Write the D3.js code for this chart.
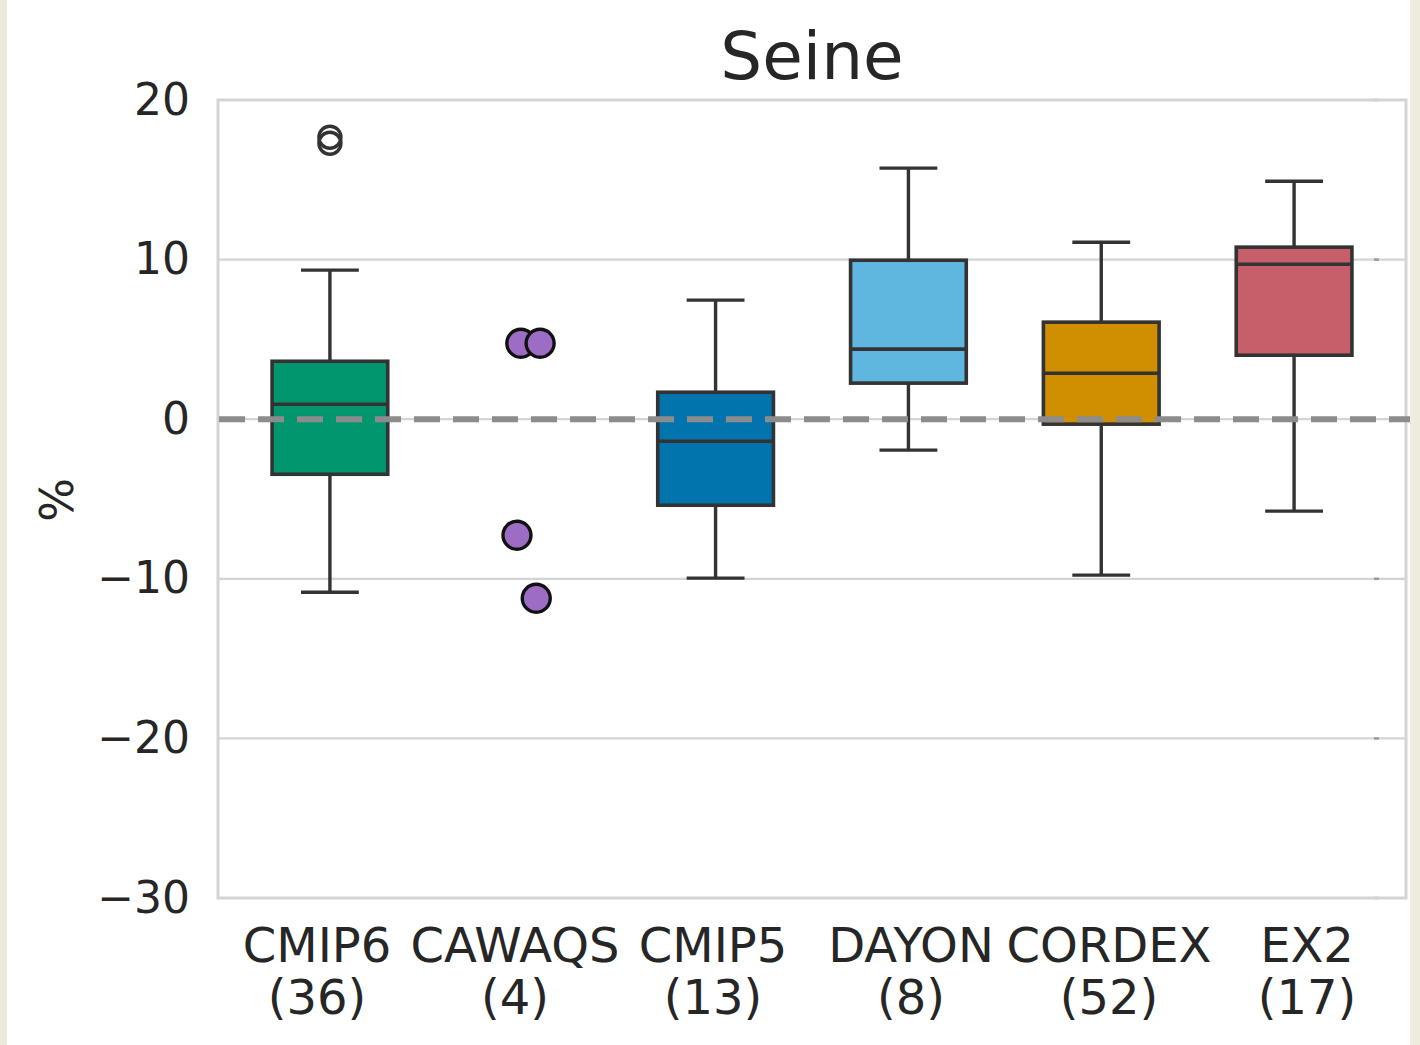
<!DOCTYPE html>
<html>
<head>
<meta charset="utf-8">
<script src="https://d3js.org/d3.v7.min.js"></script>
<style>
  body { margin: 0; background: #fff; }
  text { font-family: "DejaVu Sans", sans-serif; fill: #262626; }
</style>
</head>
<body>
<svg width="1420" height="1045"></svg>
<script>
var groups = ['CMIP6', 'CAWAQS', 'CMIP5', 'DAYON', 'CORDEX', 'EX2'];
var counts = [36, 4, 13, 8, 52, 17];
var colors = ['#02966f', '#9d6dc6', '#0174ae', '#5fb7df', '#cf8f00', '#c65f6a'];
// box stats: [low whisker, q1, median, q3, high whisker]; CAWAQS has only points
var stats = [
    [-10.84, -3.45, 0.94, 3.63, 9.34],
    null,
    [-9.96, -5.39, -1.38, 1.69, 7.46],
    [-1.94, 2.26, 4.39, 9.96, 15.73],
    [-9.77, -0.31, 2.88, 6.08, 11.09],
    [-5.76, 4.01, 9.71, 10.78, 14.91]
];
var outliers = [[17.67, 17.29], [], [], [], [], []];
var cawaqsValues = [4.76, 4.76, -7.27, -11.22];
var cawaqsJitter = [-0.01, 0.09, -0.03, 0.07]; // strip jitter, fraction of band
var yTicks = [20, 10, 0, -10, -20, -30];

var svg = d3.select('svg');
var width = +svg.attr('width'),
    height = +svg.attr('height');
var frame = {left: 218, right: 1406, top: 100, bottom: 898};

// screenshot edge strips
svg.append('rect').attr('x', 0).attr('y', 0).attr('width', 7).attr('height', height).attr('fill', '#ece9dd');
svg.append('rect').attr('x', 1410).attr('y', 0).attr('width', 10).attr('height', height).attr('fill', '#eeebe0');

var y = d3.scaleLinear()
    .domain([-30, 20])
    .range([frame.bottom, frame.top]);
// tick labels sit on the frame axis, boxes on a slightly narrower one
var xLabel = d3.scaleBand()
    .domain(groups)
    .range([frame.left, frame.right]);
var x = d3.scaleBand()
    .domain(groups)
    .range([233.5, 1390.5]);
var boxW = x.bandwidth() * 0.6;

// grid
svg.selectAll('.grid')
    .data(yTicks).enter().append('line')
    .attr('x1', frame.left).attr('x2', frame.right)
    .attr('y1', function(d) { return y(d); })
    .attr('y2', function(d) { return y(d); })
    .attr('stroke', '#d4d4d4')
    .attr('stroke-width', 2.2);

// little twin-axis ticks near the right edge
svg.selectAll('.rtick')
    .data(yTicks.filter(function(d) { return d != 0; })).enter().append('line')
    .attr('x1', 1374).attr('x2', 1379)
    .attr('y1', function(d) { return y(d); })
    .attr('y2', function(d) { return y(d); })
    .attr('stroke', '#9a9a9a')
    .attr('stroke-width', 2.5);

// frame
svg.append('rect')
    .attr('x', frame.left).attr('y', frame.top)
    .attr('width', frame.right - frame.left)
    .attr('height', frame.bottom - frame.top)
    .attr('fill', 'none')
    .attr('stroke', '#d4d4d4')
    .attr('stroke-width', 3);

var yAxis = d3.axisLeft(y)
    .tickValues(yTicks)
    .tickSize(0)
    .tickPadding(28)
    .tickFormat(function(d) { return d < 0 ? '\u2212' + Math.abs(d) : d; });
svg.append('g')
    .attr('transform', 'translate(' + frame.left + ',0)')
    .call(yAxis)
    .call(function(g) { g.select('.domain').remove(); })
    .selectAll('text')
    .attr('font-size', 44)
    .attr('font-family', 'DejaVu Sans')
    .attr('fill', '#262626');

var dark = '#333333';
var boxes = svg.append('g');
stats.forEach(function(s, i) {
    if (!s) return;
    var cx = x(groups[i]) + x.bandwidth() / 2;
    var g = boxes.append('g');
    g.append('line')
        .attr('x1', cx).attr('x2', cx)
        .attr('y1', y(s[0])).attr('y2', y(s[1]))
        .attr('stroke', dark).attr('stroke-width', 3.4);
    g.append('line')
        .attr('x1', cx).attr('x2', cx)
        .attr('y1', y(s[3])).attr('y2', y(s[4]))
        .attr('stroke', dark).attr('stroke-width', 3.4);
    [s[0], s[4]].forEach(function(v) {
        g.append('line')
            .attr('x1', cx - boxW / 4).attr('x2', cx + boxW / 4)
            .attr('y1', y(v)).attr('y2', y(v))
            .attr('stroke', dark).attr('stroke-width', 3.4);
    });
    g.append('rect')
        .attr('x', cx - boxW / 2).attr('width', boxW)
        .attr('y', y(s[3])).attr('height', y(s[1]) - y(s[3]))
        .attr('fill', colors[i])
        .attr('stroke', dark).attr('stroke-width', 3.6);
    g.append('line')
        .attr('x1', cx - boxW / 2).attr('x2', cx + boxW / 2)
        .attr('y1', y(s[2])).attr('y2', y(s[2]))
        .attr('stroke', dark).attr('stroke-width', 3.6);
    g.selectAll('circle')
        .data(outliers[i]).enter().append('circle')
        .attr('cx', cx)
        .attr('cy', function(d) { return y(d); })
        .attr('r', 11)
        .attr('fill', 'none')
        .attr('stroke', dark)
        .attr('stroke-width', 3.4);
});

// zero reference line
svg.append('line')
    .attr('x1', frame.left + 1).attr('x2', frame.right + 4)
    .attr('y1', y(0)).attr('y2', y(0))
    .attr('stroke', '#8c8c8c')
    .attr('stroke-width', 6)
    .attr('stroke-dasharray', '26,13');

// CAWAQS strip points
var ci = groups.indexOf('CAWAQS');
svg.append('g').selectAll('circle')
    .data(cawaqsValues).enter().append('circle')
    .attr('cx', function(d, i) { return x('CAWAQS') + x.bandwidth() * (0.5 + cawaqsJitter[i]); })
    .attr('cy', function(d) { return y(d); })
    .attr('r', 14)
    .attr('fill', colors[ci])
    .attr('stroke', '#111')
    .attr('stroke-width', 3.4);

// x labels
var labels = svg.append('g').selectAll('text')
    .data(groups).enter().append('text')
    .attr('text-anchor', 'middle')
    .attr('font-size', 48)
    .attr('x', function(d) { return xLabel(d) + xLabel.bandwidth() / 2; })
    .attr('y', 962);
labels.append('tspan').text(function(d) { return d; });
labels.append('tspan')
    .attr('x', function(d) { return xLabel(d) + xLabel.bandwidth() / 2; })
    .attr('y', 1014)
    .text(function(d, i) { return '(' + counts[i] + ')'; });

// y label
svg.append('text')
    .attr('transform', 'translate(73,500) rotate(-90)')
    .attr('text-anchor', 'middle')
    .attr('font-size', 46)
    .text('%');

// title
svg.append('text')
    .attr('x', (frame.left + frame.right) / 2)
    .attr('y', 79)
    .attr('text-anchor', 'middle')
    .attr('font-size', 66)
    .text('Seine');
</script>
</body>
</html>
